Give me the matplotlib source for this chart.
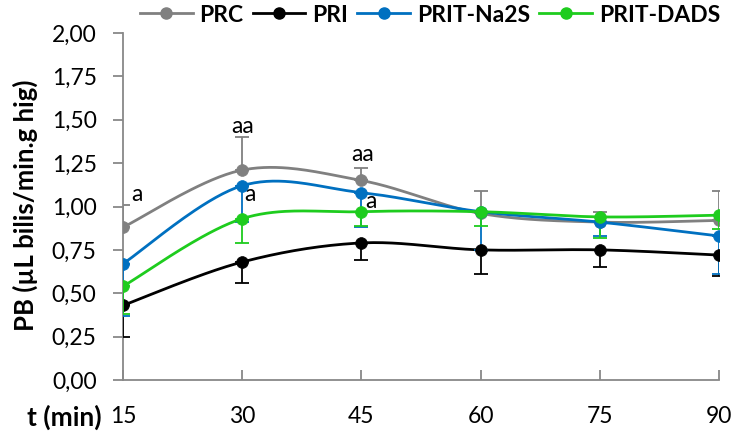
import numpy as np
import matplotlib
matplotlib.use("Agg")
import matplotlib.pyplot as plt
from matplotlib.lines import Line2D

plt.rcParams['font.family'] = ['Lato', 'DejaVu Sans']

# Time points (min)
t = [15, 30, 45, 60, 75, 90]

# Mean values per group
prc = [0.88, 1.21, 1.15, 0.96, 0.91, 0.92]
pri = [0.43, 0.68, 0.79, 0.75, 0.75, 0.72]
na2s = [0.67, 1.12, 1.08, 0.97, 0.91, 0.83]
dads = [0.54, 0.93, 0.97, 0.97, 0.94, 0.95]

# Error values (PRC drawn upward, the rest downward)
prc_err = [0.13, 0.19, 0.07, 0.13, 0.06, 0.17]
pri_err = [0.18, 0.12, 0.10, 0.14, 0.10, 0.12]
na2s_err = [0.30, 0.21, 0.20, 0.22, 0.08, 0.22]
dads_err = [0.16, 0.14, 0.08, 0.08, 0.12, 0.08]

names = ["PRC", "PRI", "PRIT-Na2S", "PRIT-DADS"]
colors = ["#808080", "#000000", "#0070C0", "#1ECC1E"]

yticks = [0.0, 0.25, 0.5, 0.75, 1.0, 1.25, 1.5, 1.75, 2.0]

# Significance letters: (x, y, text)
letters = [(16.8, 1.07, "a"), (30.1, 1.46, "aa"), (31.0, 1.07, "a"),
           (45.1, 1.30, "aa"), (46.2, 1.03, "a")]


def smooth(x, y, n=40):
    """Catmull-Rom curve through the points, like a spreadsheet smoothed line."""
    x = np.asarray(x, float)
    y = np.asarray(y, float)
    px = np.concatenate([[x[0]], x, [x[-1]]])
    py = np.concatenate([[y[0]], y, [y[-1]]])
    xs, ys = [], []
    s = np.linspace(0, 1, n)
    for i in range(1, len(px) - 2):
        p0x, p1x, p2x, p3x = px[i - 1], px[i], px[i + 1], px[i + 2]
        p0y, p1y, p2y, p3y = py[i - 1], py[i], py[i + 1], py[i + 2]
        m1x, m2x = (p2x - p0x) / 2, (p3x - p1x) / 2
        m1y, m2y = (p2y - p0y) / 2, (p3y - p1y) / 2
        h00 = 2 * s**3 - 3 * s**2 + 1
        h10 = s**3 - 2 * s**2 + s
        h01 = -2 * s**3 + 3 * s**2
        h11 = s**3 - s**2
        xs.append(h00 * p1x + h10 * m1x + h01 * p2x + h11 * m2x)
        ys.append(h00 * p1y + h10 * m1y + h01 * p2y + h11 * m2y)
    return np.concatenate(xs), np.concatenate(ys)


fig = plt.figure(figsize=(7.31, 4.34), dpi=100)
ax = fig.add_axes([123 / 731, 1 - 380 / 434, (719 - 123) / 731, (380 - 33) / 434])

series = [prc, pri, na2s, dads]
errs = [prc_err, pri_err, na2s_err, dads_err]
for k, (vals, err, col) in enumerate(zip(series, errs, colors)):
    if k == 0:
        yerr = [np.zeros(len(err)), err]
    else:
        yerr = [err, np.zeros(len(err))]
    ax.errorbar(t, vals, yerr=yerr, fmt='none', ecolor=col, elinewidth=1.3,
                capsize=5, capthick=1.3, zorder=2 + k)
    sx, sy = smooth(t, vals)
    ax.plot(sx, sy, color=col, lw=2.0, zorder=3 + k, solid_capstyle='round')
    ax.plot(t, vals, 'o', color=col, ms=8.5, mec=col, mew=0.5, zorder=4 + k)

for x, y, s in letters:
    ax.text(x, y, s, ha='center', va='center', fontsize=16.5, color='black')

ax.set_xlim(15, 90)
ax.set_ylim(0, 2.0)
ax.set_xticks(t)
ax.set_xticklabels([str(v) for v in t])
ax.set_yticks(yticks)
ax.set_yticklabels([f"{v:.2f}".replace('.', ',') for v in yticks])
ax.tick_params(axis='both', labelsize=16.5, color='#888888', width=1.3)
ax.tick_params(axis='y', direction='out', length=7, pad=12)
ax.tick_params(axis='x', direction='in', length=7, pad=19)
for sp in ['top', 'right']:
    ax.spines[sp].set_visible(False)
for sp in ['left', 'bottom']:
    ax.spines[sp].set_color('#888888')
    ax.spines[sp].set_linewidth(1.3)
ax.spines['left'].set_bounds(0, 2.0)

fig.text(25 / 731, 1 - 205 / 434, "PB (µL bilis/min.g hig)", fontsize=18.5,
         fontweight='bold', rotation=90, ha='center', va='center')
fig.text(64 / 731, 1 - 417 / 434, "t (min)", fontsize=19, fontweight='bold',
         ha='center', va='center')

handles = [Line2D([0], [0], color=c, lw=2, marker='o', ms=8, mec=c) for c in colors]
leg = fig.legend(handles, names, loc='center', bbox_to_anchor=(430 / 731, 1 - 15 / 434),
                 ncol=4, frameon=False, handlelength=2.3, columnspacing=0.4,
                 handletextpad=0.3, borderpad=0, prop={'weight': 'bold', 'size': 16.5})

fig.savefig("out.png", dpi=100)
